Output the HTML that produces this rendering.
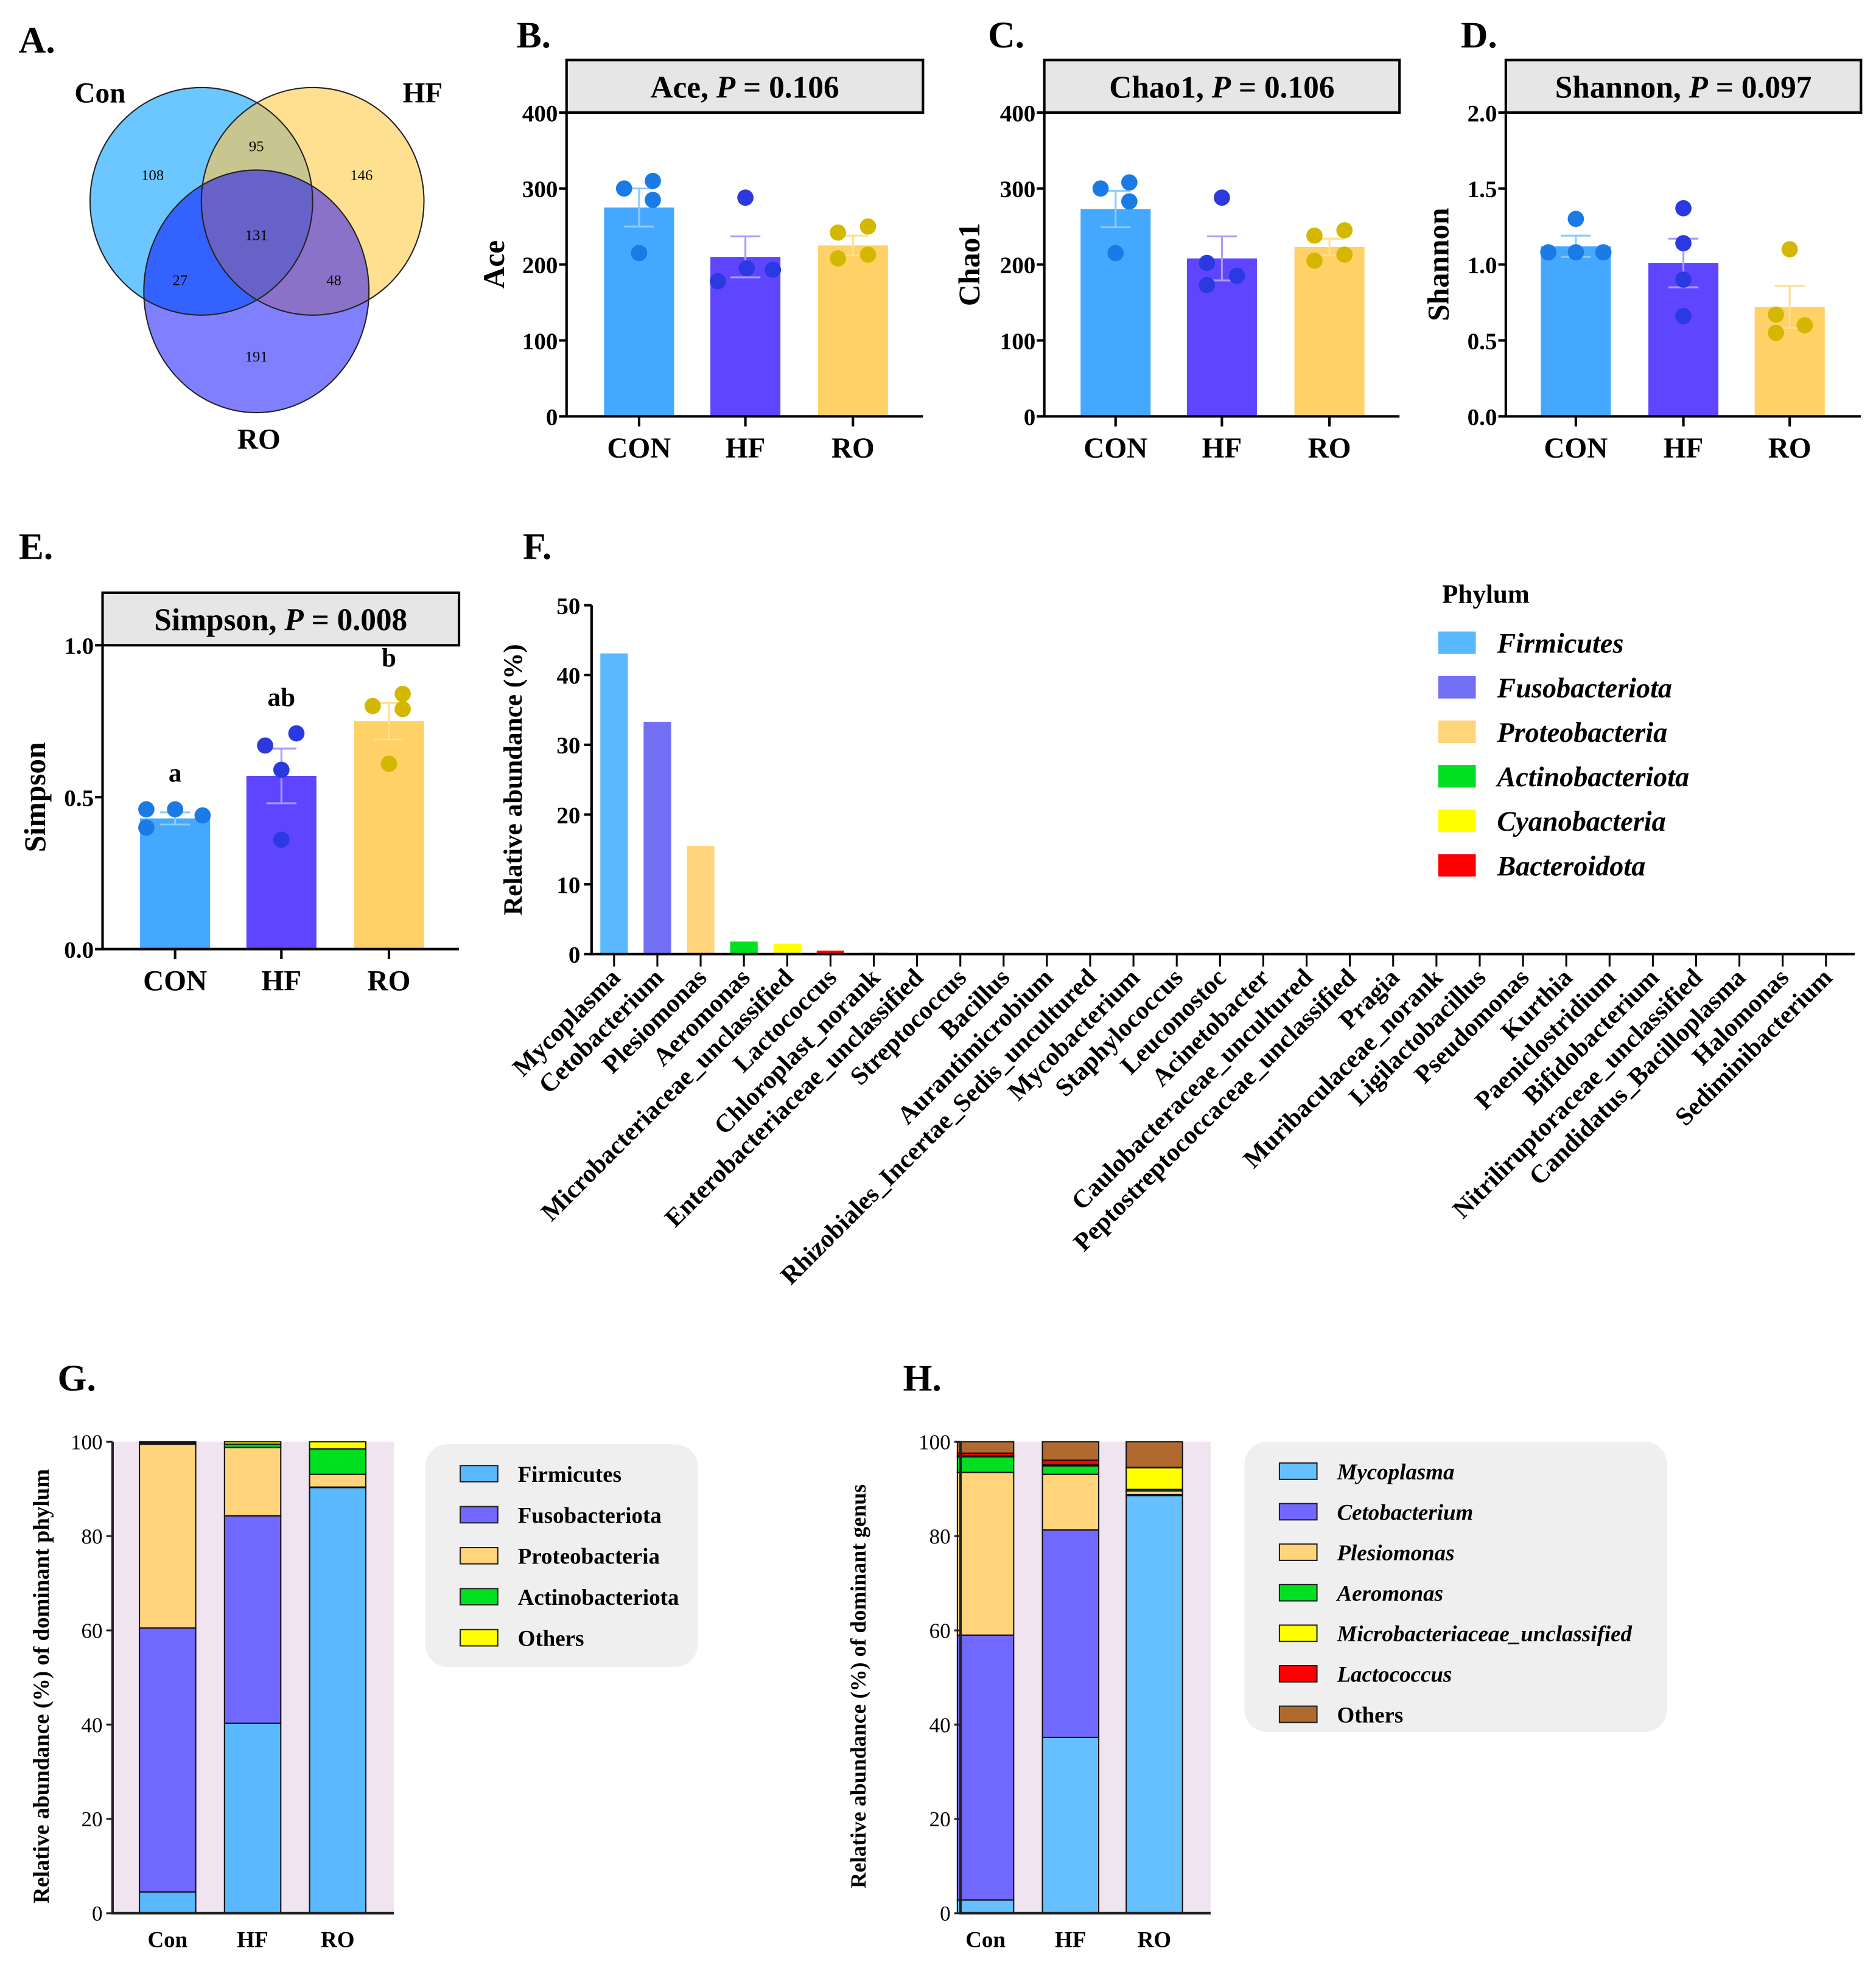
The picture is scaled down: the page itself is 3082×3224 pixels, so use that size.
<!DOCTYPE html>
<html><head><meta charset="utf-8"><style>
html,body{margin:0;padding:0;background:#fff;}
svg{display:block;font-family:"Liberation Serif",serif;}
</style></head><body>
<svg id="fig" width="3082" height="3224" viewBox="0 0 1500 1569" preserveAspectRatio="none" xmlns="http://www.w3.org/2000/svg">
<defs>
<clipPath id="cCon"><ellipse cx="161" cy="161" rx="89" ry="91"/></clipPath>
<clipPath id="cHF"><ellipse cx="250" cy="161" rx="89" ry="91"/></clipPath>
<clipPath id="cRO"><ellipse cx="205" cy="233" rx="90" ry="97"/></clipPath>
</defs>
<g font-weight="bold">
<text x="15" y="42" font-size="30">A.</text>
<ellipse cx="161" cy="161" rx="89" ry="91" fill="#6cc6ff"/>
<ellipse cx="250" cy="161" rx="89" ry="91" fill="#ffe090"/>
<ellipse cx="205" cy="233" rx="90" ry="97" fill="#8080ff"/>
<g clip-path="url(#cCon)"><ellipse cx="250" cy="161" rx="89" ry="91" fill="#c8c690"/><ellipse cx="205" cy="233" rx="90" ry="97" fill="#3462ff"/></g>
<g clip-path="url(#cHF)"><ellipse cx="205" cy="233" rx="90" ry="97" fill="#8a72c8"/></g>
<g clip-path="url(#cCon)"><g clip-path="url(#cHF)"><ellipse cx="205" cy="233" rx="90" ry="97" fill="#6662c8"/></g></g>
<g fill="none" stroke="#222" stroke-width="1">
<ellipse cx="161" cy="161" rx="89" ry="91"/><ellipse cx="250" cy="161" rx="89" ry="91"/><ellipse cx="205" cy="233" rx="90" ry="97"/></g>
<text x="80" y="82" font-size="23" text-anchor="middle">Con</text>
<text x="338" y="82" font-size="23" text-anchor="middle">HF</text>
<text x="207" y="359" font-size="23" text-anchor="middle">RO</text>
<g font-size="12" font-weight="normal" text-anchor="middle">
<text x="122" y="144">108</text><text x="205" y="121">95</text><text x="289" y="144">146</text>
<text x="205" y="192">131</text><text x="144" y="228">27</text><text x="267" y="228">48</text><text x="205" y="289">191</text></g>
</g>
<g id="panels"></g>
</svg>
<script>
// ---- alpha diversity data ----
const groups = ["CON","HF","RO"];
const aceMeans = [275, 210, 225];
const aceErr = [25, 27, 13];
const acePts = [[300,310,285,215],[288,178,195,193],[242,250,208,213]];
const chaoMeans = [273, 208, 223];
const chaoErr = [24, 29, 11];
const chaoPts = [[300,308,283,215],[288,173,202,185],[238,245,205,213]];
const shanMeans = [1.12, 1.01, 0.72];
const shanErr = [0.07, 0.16, 0.14];
const shanPts = [[1.08,1.30,1.08,1.08],[1.37,1.14,0.90,0.66],[1.10,0.67,0.55,0.60]];
const simpMeans = [0.43, 0.57, 0.75];
const simpErr = [0.02, 0.09, 0.06];
const simpPts = [[0.46,0.46,0.40,0.44],[0.67,0.71,0.59,0.36],[0.80,0.84,0.79,0.61]];
const simpLetters = ["a","ab","b"];
// ---- genus bar chart (F) ----
const genera = ["Mycoplasma","Cetobacterium","Plesiomonas","Aeromonas","Microbacteriaceae_unclassified","Lactococcus","Chloroplast_norank","Enterobacteriaceae_unclassified","Streptococcus","Bacillus","Aurantimicrobium","Rhizobiales_Incertae_Sedis_uncultured","Mycobacterium","Staphylococcus","Leuconostoc","Acinetobacter","Caulobacteraceae_uncultured","Peptostreptococcaceae_unclassified","Pragia","Muribaculaceae_norank","Ligilactobacillus","Pseudomonas","Kurthia","Paeniclostridium","Bifidobacterium","Nitriliruptoraceae_unclassified","Candidatus_Bacilloplasma","Halomonas","Sediminibacterium"];
const genusAbund = [43.1,33.3,15.5,1.8,1.5,0.5,0.2,0.15,0.05,0.04,0.03,0.03,0.03,0.02,0.02,0.02,0.02,0.02,0.02,0.02,0.02,0.02,0.02,0.02,0.02,0.02,0.02,0.02,0.02];
const genusPhylum = [0,1,2,3,4,5,6,6,0,0,3,2,3,0,0,2,2,0,2,5,0,2,0,0,3,3,0,2,5];
const phyla = ["Firmicutes","Fusobacteriota","Proteobacteria","Actinobacteriota","Cyanobacteria","Bacteroidota"];
const phylaColors = ["#5ab8ff","#7470f5","#ffd47a","#00e020","#ffff00","#ff0000","#c8a080"];
const fTicks = [0,10,20,30,40,50];
// ---- stacked (G,H) ----
const stackGroups = ["Con","HF","RO"];
const gSeries = ["Firmicutes","Fusobacteriota","Proteobacteria","Actinobacteriota","Others"];
const gColors = ["#5ab8ff","#7168ff","#ffd47a","#00e020","#ffff00"];
const gValues = [[4.5,40.3,90.3],[56,44,0.1],[39,14.5,2.7],[0.3,0.7,5.4],[0.2,0.5,1.5]];
const hSeries = ["Mycoplasma","Cetobacterium","Plesiomonas","Aeromonas","Microbacteriaceae_unclassified","Lactococcus","Others"];
const hColors = ["#66c0ff","#7168ff","#ffd47a","#00e020","#ffff00","#ff0000","#b06a30"];
const hValues = [[2.8,37.3,88.6],[56.2,44,0.2],[34.5,11.8,0.8],[3.3,1.8,0.3],[0.2,0.2,4.6],[0.6,1,0.1],[2.4,3.9,5.4]];
const stackTicks = [0,20,40,60,80,100];

const NS="http://www.w3.org/2000/svg";
const root=document.getElementById('panels');
function mk(tag,attrs,parent,txt){const e=document.createElementNS(NS,tag);for(const k in attrs)e.setAttribute(k,attrs[k]);if(txt!==undefined)e.textContent=txt;(parent||root).appendChild(e);return e;}

const barColors=["#45a8ff","#5f45ff","#ffd166"];
const errColors=["#8ccaff","#a89cff","#ffe08a"];
const dotColors=["#1a7ae6","#2a3ae0","#d4b800"];

function alphaPanel(o){
  const g=mk('g',{});
  
  
  const y=v=>o.y0-(v-o.min)/(o.max-o.min)*(o.y0-o.y1);
  const x=i=>o.xs[i];
  const lbl=mk('text',{x:o.lx,y:o.ly,'font-size':30,'font-weight':'bold'},g,o.label);
  
  
  const box=mk('rect',{x:o.x0,y:o.y1-42,width:o.x1-o.x0,height:42,fill:'#e6e6e6',stroke:'#000','stroke-width':2},g);
  
  
  const t=mk('text',{x:(o.x0+o.x1)/2,y:o.y1-12,'font-size':25,'font-weight':'bold','text-anchor':'middle'},g);
  t.innerHTML=o.title+', <tspan font-style="italic">P</tspan> = '+o.p;
  
  
  for(let i=0;i<3;i++){
    const b=mk('rect',{x:x(i)-28,y:y(o.means[i]),width:56,height:y(o.min)-y(o.means[i]),fill:barColors[i]},g);
    
    
    const top=y(o.means[i]+o.err[i]), bot=y(o.means[i]-o.err[i]);
    const e=mk('path',{d:`M${x(i)} ${bot}V${top}M${x(i)-12} ${top}H${x(i)+12}M${x(i)-12} ${bot}H${x(i)+12}`,stroke:errColors[i],'stroke-width':1.5,fill:'none'},g);
    
    
    o.pts[i].forEach((v,k)=>{
      const c=mk('circle',{cx:x(i)+o.jit[i][k],cy:y(v),r:6.5,fill:dotColors[i]},g);
      
      
    });
    const xl=mk('text',{x:x(i),y:o.y0+33,'font-size':23,'font-weight':'bold','text-anchor':'middle'},g,groups[i]);
    
    
    mk('line',{x1:x(i),x2:x(i),y1:o.y0,y2:o.y0+8,stroke:'#000','stroke-width':2},g);
    if(o.letters){
      const m=Math.max(...o.pts[i],o.means[i]+o.err[i]);
      const lt=mk('text',{x:x(i),y:y(m)-22,'font-size':21,'font-weight':'bold','text-anchor':'middle'},g,o.letters[i]);
      
      
    }
  }
  mk('path',{d:`M${o.x0} ${o.y1}V${o.y0}H${o.x1}`,stroke:'#000','stroke-width':2,fill:'none'},g);
  o.ticks.forEach(v=>{
    mk('line',{x1:o.x0-6,x2:o.x0,y1:y(v),y2:y(v),stroke:'#000','stroke-width':2},g);
    const tl=mk('text',{x:o.x0-7,y:y(v)+7,'font-size':19,'font-weight':'bold','text-anchor':'end'},g,o.tfmt(v));
    
    
  });
  const yt=mk('text',{transform:`translate(${o.yl},${(o.y0+o.y1)/2}) rotate(-90)`,'font-size':24,'font-weight':'bold','text-anchor':'middle'},g,o.title);
  
  
}
const i0=v=>String(v), f1=v=>v.toFixed(1);
alphaPanel({name:'panel-b-ace',label:'B.',lx:413,ly:38,title:'Ace',p:'0.106',x0:453,x1:738,y0:333,y1:90,min:0,max:400,ticks:[0,100,200,300,400],tfmt:i0,xs:[511,596,682],means:aceMeans,err:aceErr,pts:acePts,yl:403,
  jit:[[-12,11,11,0],[0,-22,1,22],[-12,12,-12,12]]});
alphaPanel({name:'panel-c-chao1',label:'C.',lx:790,ly:38,title:'Chao1',p:'0.106',x0:835,x1:1119,y0:333,y1:90,min:0,max:400,ticks:[0,100,200,300,400],tfmt:i0,xs:[892,977,1063],means:chaoMeans,err:chaoErr,pts:chaoPts,yl:783,
  jit:[[-12,11,11,0],[0,-12,-12,12],[-12,12,-12,12]]});
alphaPanel({name:'panel-d-shannon',label:'D.',lx:1168,ly:38,title:'Shannon',p:'0.097',x0:1204,x1:1488,y0:333,y1:90,min:0,max:2,ticks:[0,0.5,1,1.5,2],tfmt:f1,xs:[1260,1346,1431],means:shanMeans,err:shanErr,pts:shanPts,yl:1158,
  jit:[[-22,0,0,22],[0,0,0,0],[0,-11,-11,12]]});
alphaPanel({name:'panel-e-simpson',label:'E.',lx:15,ly:447,title:'Simpson',p:'0.008',x0:82,x1:367,y0:759,y1:516,min:0,max:1,ticks:[0,0.5,1.0],tfmt:f1,xs:[140,225,311],means:simpMeans,err:simpErr,pts:simpPts,yl:36,letters:simpLetters,
  jit:[[-23,0,-23,22],[-13,12,0,0],[-13,11,11,0]]});

// ---- Panel F ----
(function(){
  const g=mk('g',{});
  
  
  const X0=473,X1=1483,Y0=763,Y1=484;
  const y=v=>Y0-v/50*(Y0-Y1);
  const step=(1460-491)/(genera.length-1);
  const x=i=>491+i*step;
  const l=mk('text',{x:418,y:447,'font-size':30,'font-weight':'bold'},g,'F.');
  
  
  genera.forEach((n,i)=>{
    const b=mk('rect',{x:x(i)-11,y:y(genusAbund[i]),width:22,height:Y0-y(genusAbund[i]),fill:phylaColors[genusPhylum[i]]},g);
    
    
    mk('line',{x1:x(i),x2:x(i),y1:Y0,y2:Y0+10,stroke:'#000','stroke-width':1.5},g);
    const t=mk('text',{transform:`translate(${x(i)+6},${Y0+20}) rotate(-45)`,'font-size':20.5,'font-weight':'bold','text-anchor':'end'},g,n);
    
    
  });
  mk('path',{d:`M${X0} ${Y1}V${Y0}H${X1}`,stroke:'#000','stroke-width':2,fill:'none'},g);
  fTicks.forEach(v=>{
    mk('line',{x1:X0-6,x2:X0,y1:y(v),y2:y(v),stroke:'#000','stroke-width':2},g);
    const t=mk('text',{x:X0-9,y:y(v)+7,'font-size':19,'font-weight':'bold','text-anchor':'end'},g,String(v));
    
    
  });
  const yt=mk('text',{transform:`translate(417,${(Y0+Y1)/2}) rotate(-90)`,'font-size':21,'font-weight':'bold','text-anchor':'middle'},g,'Relative abundance (%)');
  
  
  const lt=mk('text',{x:1153,y:482,'font-size':21,'font-weight':'bold'},g,'Phylum');
  
  
  phyla.forEach((p,i)=>{
    const yy=514+i*35.6;
    const r=mk('rect',{x:1150,y:yy-9,width:30,height:18,fill:phylaColors[i]},g);
    
    
    const t=mk('text',{x:1197,y:yy+8,'font-size':22.5,'font-weight':'bold','font-style':'italic'},g,p);
    
    
  });
})();

// ---- Stacked panels G/H ----
function stackPanel(o){
  const g=mk('g',{});
  
  
  const Y0=1530,Y1=1153;
  const y=v=>Y0-v/100*(Y0-Y1);
  const l=mk('text',{x:o.lx,y:1112,'font-size':30,'font-weight':'bold'},g,o.label);
  
  
  const bg=mk('rect',{x:o.x0,y:Y1,width:o.bgw,height:Y0-Y1,fill:'#efe4ef'},g);
  
  
  stackGroups.forEach((gr,j)=>{
    let acc=0;
    o.values.forEach((vals,s)=>{
      const v=vals[j];
      const r=mk('rect',{x:o.xs[j]-22.5,y:y(acc+v),width:45,height:y(acc)-y(acc+v),fill:o.colors[s],stroke:'#111','stroke-width':1},g);
      
      
      acc+=v;
    });
    const t=mk('text',{x:o.xs[j],y:1557,'font-size':18,'font-weight':'bold','text-anchor':'middle'},g,gr);
    
    
  });
  mk('path',{d:`M${o.x0} ${Y1}V${Y0}H${o.x0+o.bgw}`,stroke:'#222','stroke-width':2,fill:'none'},g);
  stackTicks.forEach(v=>{
    mk('line',{x1:o.x0-5,x2:o.x0,y1:y(v),y2:y(v),stroke:'#222','stroke-width':1.5},g);
    const t=mk('text',{x:o.x0-8,y:y(v)+6,'font-size':17,'text-anchor':'end'},g,String(v));
    
    
  });
  const yt=mk('text',{transform:`translate(${o.yl},${(Y0+Y1)/2+7}) rotate(-90)`,'font-size':o.yfs,'font-weight':'bold','text-anchor':'middle'},g,o.ytitle);
  
  
  const lb=mk('rect',{x:o.lgx,y:o.lgy,width:o.lgw,height:o.lgh,rx:18,fill:'#efefef'},g);
  
  
  o.series.forEach((s,i)=>{
    const yy=o.lgy+24+i*o.lstep;
    const r=mk('rect',{x:o.lgx+28,y:yy-7,width:30,height:13,fill:o.colors[i],stroke:'#222','stroke-width':1},g);
    
    
    const t=mk('text',{x:o.lgx+74,y:yy+6,'font-size':18,'font-weight':'bold','font-style':(o.italic&&s!=='Others')?'italic':'normal'},g,s);
    
    
  });
}
stackPanel({name:'panel-g-phylum-stack',label:'G.',lx:46,x0:90,bgw:225,xs:[134,202,270],values:gValues,colors:gColors,series:gSeries,ytitle:'Relative abundance (%) of dominant phylum',yl:39,yfs:18,lgx:340,lgy:1155,lgw:218,lgh:178,lstep:32.8,italic:false});
stackPanel({name:'panel-h-genus-stack',label:'H.',lx:722,x0:768,bgw:200,xs:[788,856,923],values:hValues,colors:hColors,series:hSeries,ytitle:'Relative abundance (%) of dominant genus',yl:692,yfs:17.5,lgx:995,lgy:1153,lgw:338,lgh:232,lstep:32.4,italic:true});
</script>
</body></html>
